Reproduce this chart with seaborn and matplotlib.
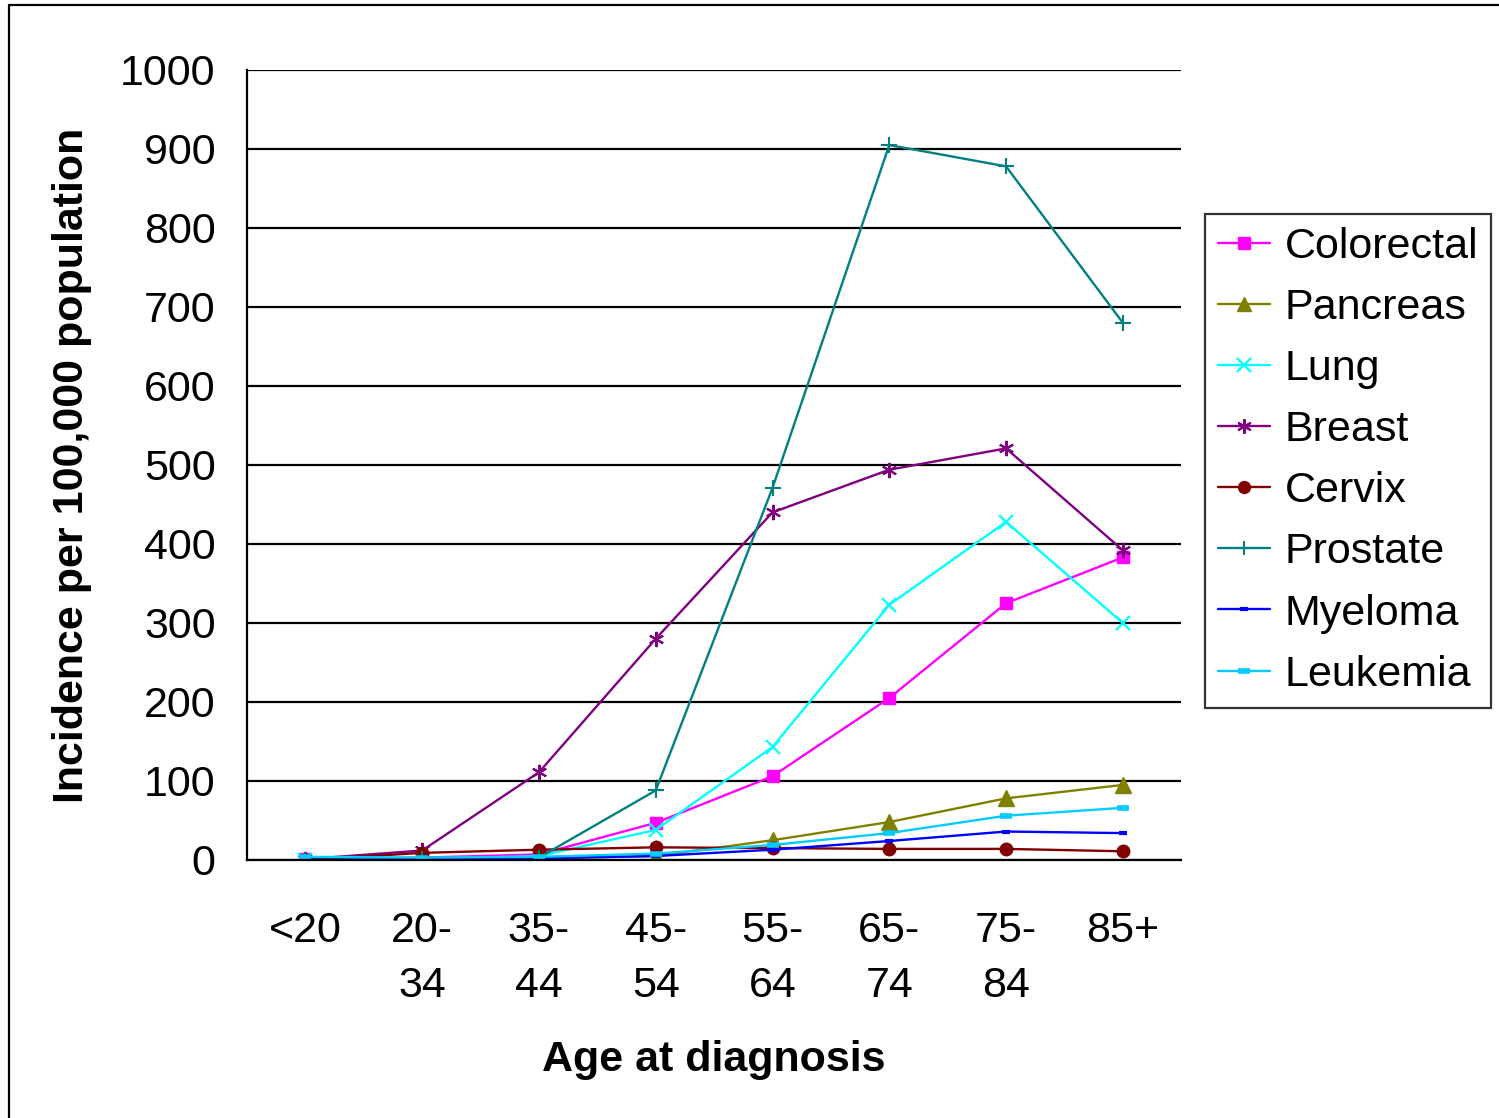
import numpy as np
import pandas as pd
import matplotlib
matplotlib.use("Agg")
import matplotlib.pyplot as plt
from matplotlib.lines import Line2D
import seaborn as sns

# Age groups and their two-line tick labels
age_groups = ["<20", "20-34", "35-44", "45-54", "55-64", "65-74", "75-84", "85+"]
age_labels = ["<20", "20-\n34", "35-\n44", "45-\n54", "55-\n64", "65-\n74", "75-\n84", "85+"]

# Incidence per 100,000 population by cancer site
colorectal = [1, 3, 7, 47, 106, 205, 325, 383]
pancreas = [0, 1, 2, 5, 25, 48, 78, 95]
lung = [0, 1, 5, 38, 143, 323, 428, 300]
breast = [1, 12, 111, 280, 440, 494, 521, 392]
cervix = [0, 9, 13, 16, 15, 14, 14, 11]
prostate = [0, 1, 3, 88, 471, 905, 878, 680]
myeloma = [0, 1, 2, 5, 13, 24, 36, 34]
leukemia = [4, 3, 4, 8, 19, 34, 56, 66]

sites = ["Colorectal", "Pancreas", "Lung", "Breast", "Cervix", "Prostate", "Myeloma", "Leukemia"]
values = [colorectal, pancreas, lung, breast, cervix, prostate, myeloma, leukemia]

styles = {
    "Colorectal": dict(color="#FF00FF", marker="s", ms=9, mew=1),
    "Pancreas": dict(color="#808000", marker="^", ms=11, mew=1),
    "Lung": dict(color="#00FFFF", marker="x", ms=10, mew=1.6),
    "Breast": dict(color="#800080", marker=(6, 2, 0), ms=11, mew=1.5),
    "Cervix": dict(color="#800000", marker="o", ms=9, mew=1),
    "Prostate": dict(color="#008080", marker="+", ms=11, mew=1.5),
    "Myeloma": dict(color="#0000FF", marker="_", ms=6, mew=3),
    "Leukemia": dict(color="#00CCFF", marker="_", ms=9, mew=4),
}

rows = []
for site, vals in zip(sites, values):
    for i, v in enumerate(vals):
        rows.append({"site": site, "pos": i, "age": age_groups[i], "incidence": v})
df = pd.DataFrame(rows)

sns.set_style("white")
plt.rcParams["font.family"] = ["Liberation Sans", "DejaVu Sans"]
plt.rcParams["text.color"] = "black"
plt.rcParams["axes.labelcolor"] = "black"
plt.rcParams["xtick.color"] = "black"
plt.rcParams["ytick.color"] = "black"

FS = 31

fig = plt.figure(figsize=(14.99, 11.18), dpi=100)
ax = fig.add_axes([0.1648, 0.2308, 0.788 - 0.1648, 0.9374 - 0.2308])

for site in sites:
    st = styles[site]
    sub = df[df["site"] == site]
    sns.lineplot(data=sub, x="pos", y="incidence", ax=ax, color=st["color"],
                 marker=st["marker"], markersize=st["ms"], markeredgewidth=st["mew"],
                 markeredgecolor=st["color"], linewidth=1.7, legend=False)

ax.set_xlim(-0.5, len(age_groups) - 0.5)
ax.set_ylim(0, 1000)
ax.set_yticks(np.arange(0, 1001, 100))
ax.set_yticklabels([str(v) for v in range(0, 1001, 100)], fontsize=FS)
ax.yaxis.grid(True, color="black", linewidth=1.6)
ax.set_axisbelow(True)

# category labels centred, tick marks at category boundaries
ax.set_xticks(np.arange(len(age_groups)))
ax.set_xticklabels(age_labels, fontsize=FS, linespacing=1.48)
ax.tick_params(axis="x", which="major", length=0, pad=37)
ax.set_xticks(np.arange(-0.5, len(age_groups), 1.0), minor=True)
ax.tick_params(axis="x", which="minor", length=8.6, width=1.6, color="black", direction="out")
ax.tick_params(axis="y", length=8.6, width=1.6, color="black", direction="out", pad=14)

for s in ["top", "right"]:
    ax.spines[s].set_visible(False)
for s in ["left", "bottom"]:
    ax.spines[s].set_color("black")
    ax.spines[s].set_linewidth(1.6)

ax.set_xlabel("Age at diagnosis", fontsize=FS, fontweight="bold", labelpad=24)
ax.set_ylabel("Incidence per 100,000 population", fontsize=FS, fontweight="bold", labelpad=20)

handles = [Line2D([], [], color=styles[s]["color"], marker=styles[s]["marker"],
                  markersize=styles[s]["ms"] * 0.95, markeredgewidth=styles[s]["mew"],
                  markeredgecolor=styles[s]["color"], linewidth=1.7) for s in sites]
leg = fig.legend(handles, sites, loc="upper left", bbox_to_anchor=(1205 / 1499, 1 - 214 / 1118),
                 fontsize=FS, frameon=True, fancybox=False, edgecolor="black",
                 handlelength=1.2, handletextpad=0.35, labelspacing=0.49, borderpad=0.3,
                 borderaxespad=0)
leg.get_frame().set_linewidth(1.6)

# outer frame of the figure
fig.add_artist(Line2D([9 / 1499, 9 / 1499], [0, 1 - 5 / 1118], color="black", linewidth=1.6,
                      transform=fig.transFigure))
fig.add_artist(Line2D([9 / 1499, 1], [1 - 5 / 1118, 1 - 5 / 1118], color="black", linewidth=1.6,
                      transform=fig.transFigure))

fig.savefig("out.png", dpi=100)
